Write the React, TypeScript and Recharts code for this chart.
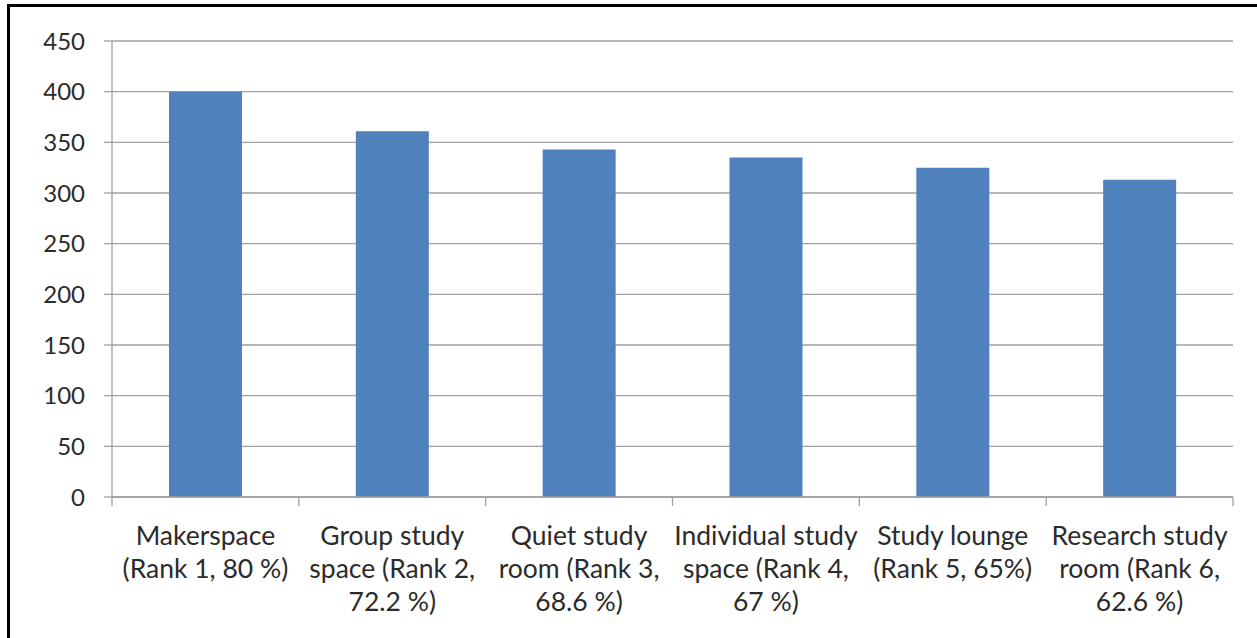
import React from 'react';
import { BarChart, Bar, XAxis, YAxis, CartesianGrid } from 'recharts';

const categories = [
  'Makerspace',
  'Group study space',
  'Quiet study room',
  'Individual study space',
  'Study lounge',
  'Research study room',
];

// respondents per space type
const counts = [400, 361, 343, 335, 325, 313];

// axis label lines, as wrapped in the original
const tickLines = [
  ['Makerspace', '(Rank 1, 80 %)'],
  ['Group study', 'space (Rank 2,', '72.2 %)'],
  ['Quiet study', 'room (Rank 3,', '68.6 %)'],
  ['Individual study', 'space (Rank 4,', '67 %)'],
  ['Study lounge', '(Rank 5, 65%)'],
  ['Research study', 'room (Rank 6,', '62.6 %)'],
];

const yTicks = [0, 50, 100, 150, 200, 250, 300, 350, 400, 450];

const data = categories.map((name, i) => ({ name, value: counts[i] }));

const W = 1257;
const H = 638;
const LEFT = 112;
const RIGHT = 24;
const FONT = 'Lato, "Open Sans", sans-serif';
const TEXT = '#2b2b2b';
const AXIS = '#a0a0a0';

const bandWidth = (W - LEFT - RIGHT) / categories.length;

const CategoryTick = (props: any) => {
  const { x, y, index } = props;
  const lines = tickLines[index] || [];
  const half = bandWidth / 2;
  return (
    <g>
      <line x1={x - half} x2={x - half} y1={y} y2={y + 9} stroke={AXIS} strokeWidth={1.3} />
      {index === categories.length - 1 && (
        <line x1={x + half} x2={x + half} y1={y} y2={y + 9} stroke={AXIS} strokeWidth={1.3} />
      )}
      <text x={x} y={y} textAnchor="middle" fill={TEXT} fontSize={26.5} fontFamily={FONT}>
        {lines.map((l, i) => (
          <tspan key={i} x={x} y={y + 48 + i * 33}>{l}</tspan>
        ))}
      </text>
    </g>
  );
};

export default function App() {
  return (
    <div style={{ position: 'absolute', left: 0, top: 0, width: W, height: H, background: '#fff', overflow: 'hidden' }}>
      <div
        style={{
          position: 'absolute',
          left: 7,
          top: 4,
          width: W,
          height: H,
          borderTop: '3px solid #000',
          borderLeft: '3px solid #000',
        }}
      />
      <div style={{ position: 'absolute', left: 0, top: 0 }}>
        <BarChart
          width={W}
          height={H}
          data={data}
          margin={{ top: 41, right: RIGHT, left: 0, bottom: 0 }}
          barCategoryGap="30.5%"
        >
          <CartesianGrid horizontal vertical={false} stroke={AXIS} strokeWidth={1.3} />
          <XAxis
            dataKey="name"
            height={141}
            interval={0}
            tickSize={0}
            tickMargin={0}
            axisLine={{ stroke: AXIS, strokeWidth: 1.3 }}
            tick={<CategoryTick />}
          />
          <YAxis
            width={LEFT}
            domain={[0, 450]}
            ticks={yTicks}
            interval={0}
            tickSize={8}
            tickMargin={19}
            axisLine={{ stroke: AXIS, strokeWidth: 1.3 }}
            tickLine={{ stroke: AXIS, strokeWidth: 1.3 }}
            tick={{ fill: TEXT, fontSize: 24, fontFamily: FONT }}
          />
          <Bar dataKey="value" fill="#4f81bd" isAnimationActive={false} />
        </BarChart>
      </div>
    </div>
  );
}
